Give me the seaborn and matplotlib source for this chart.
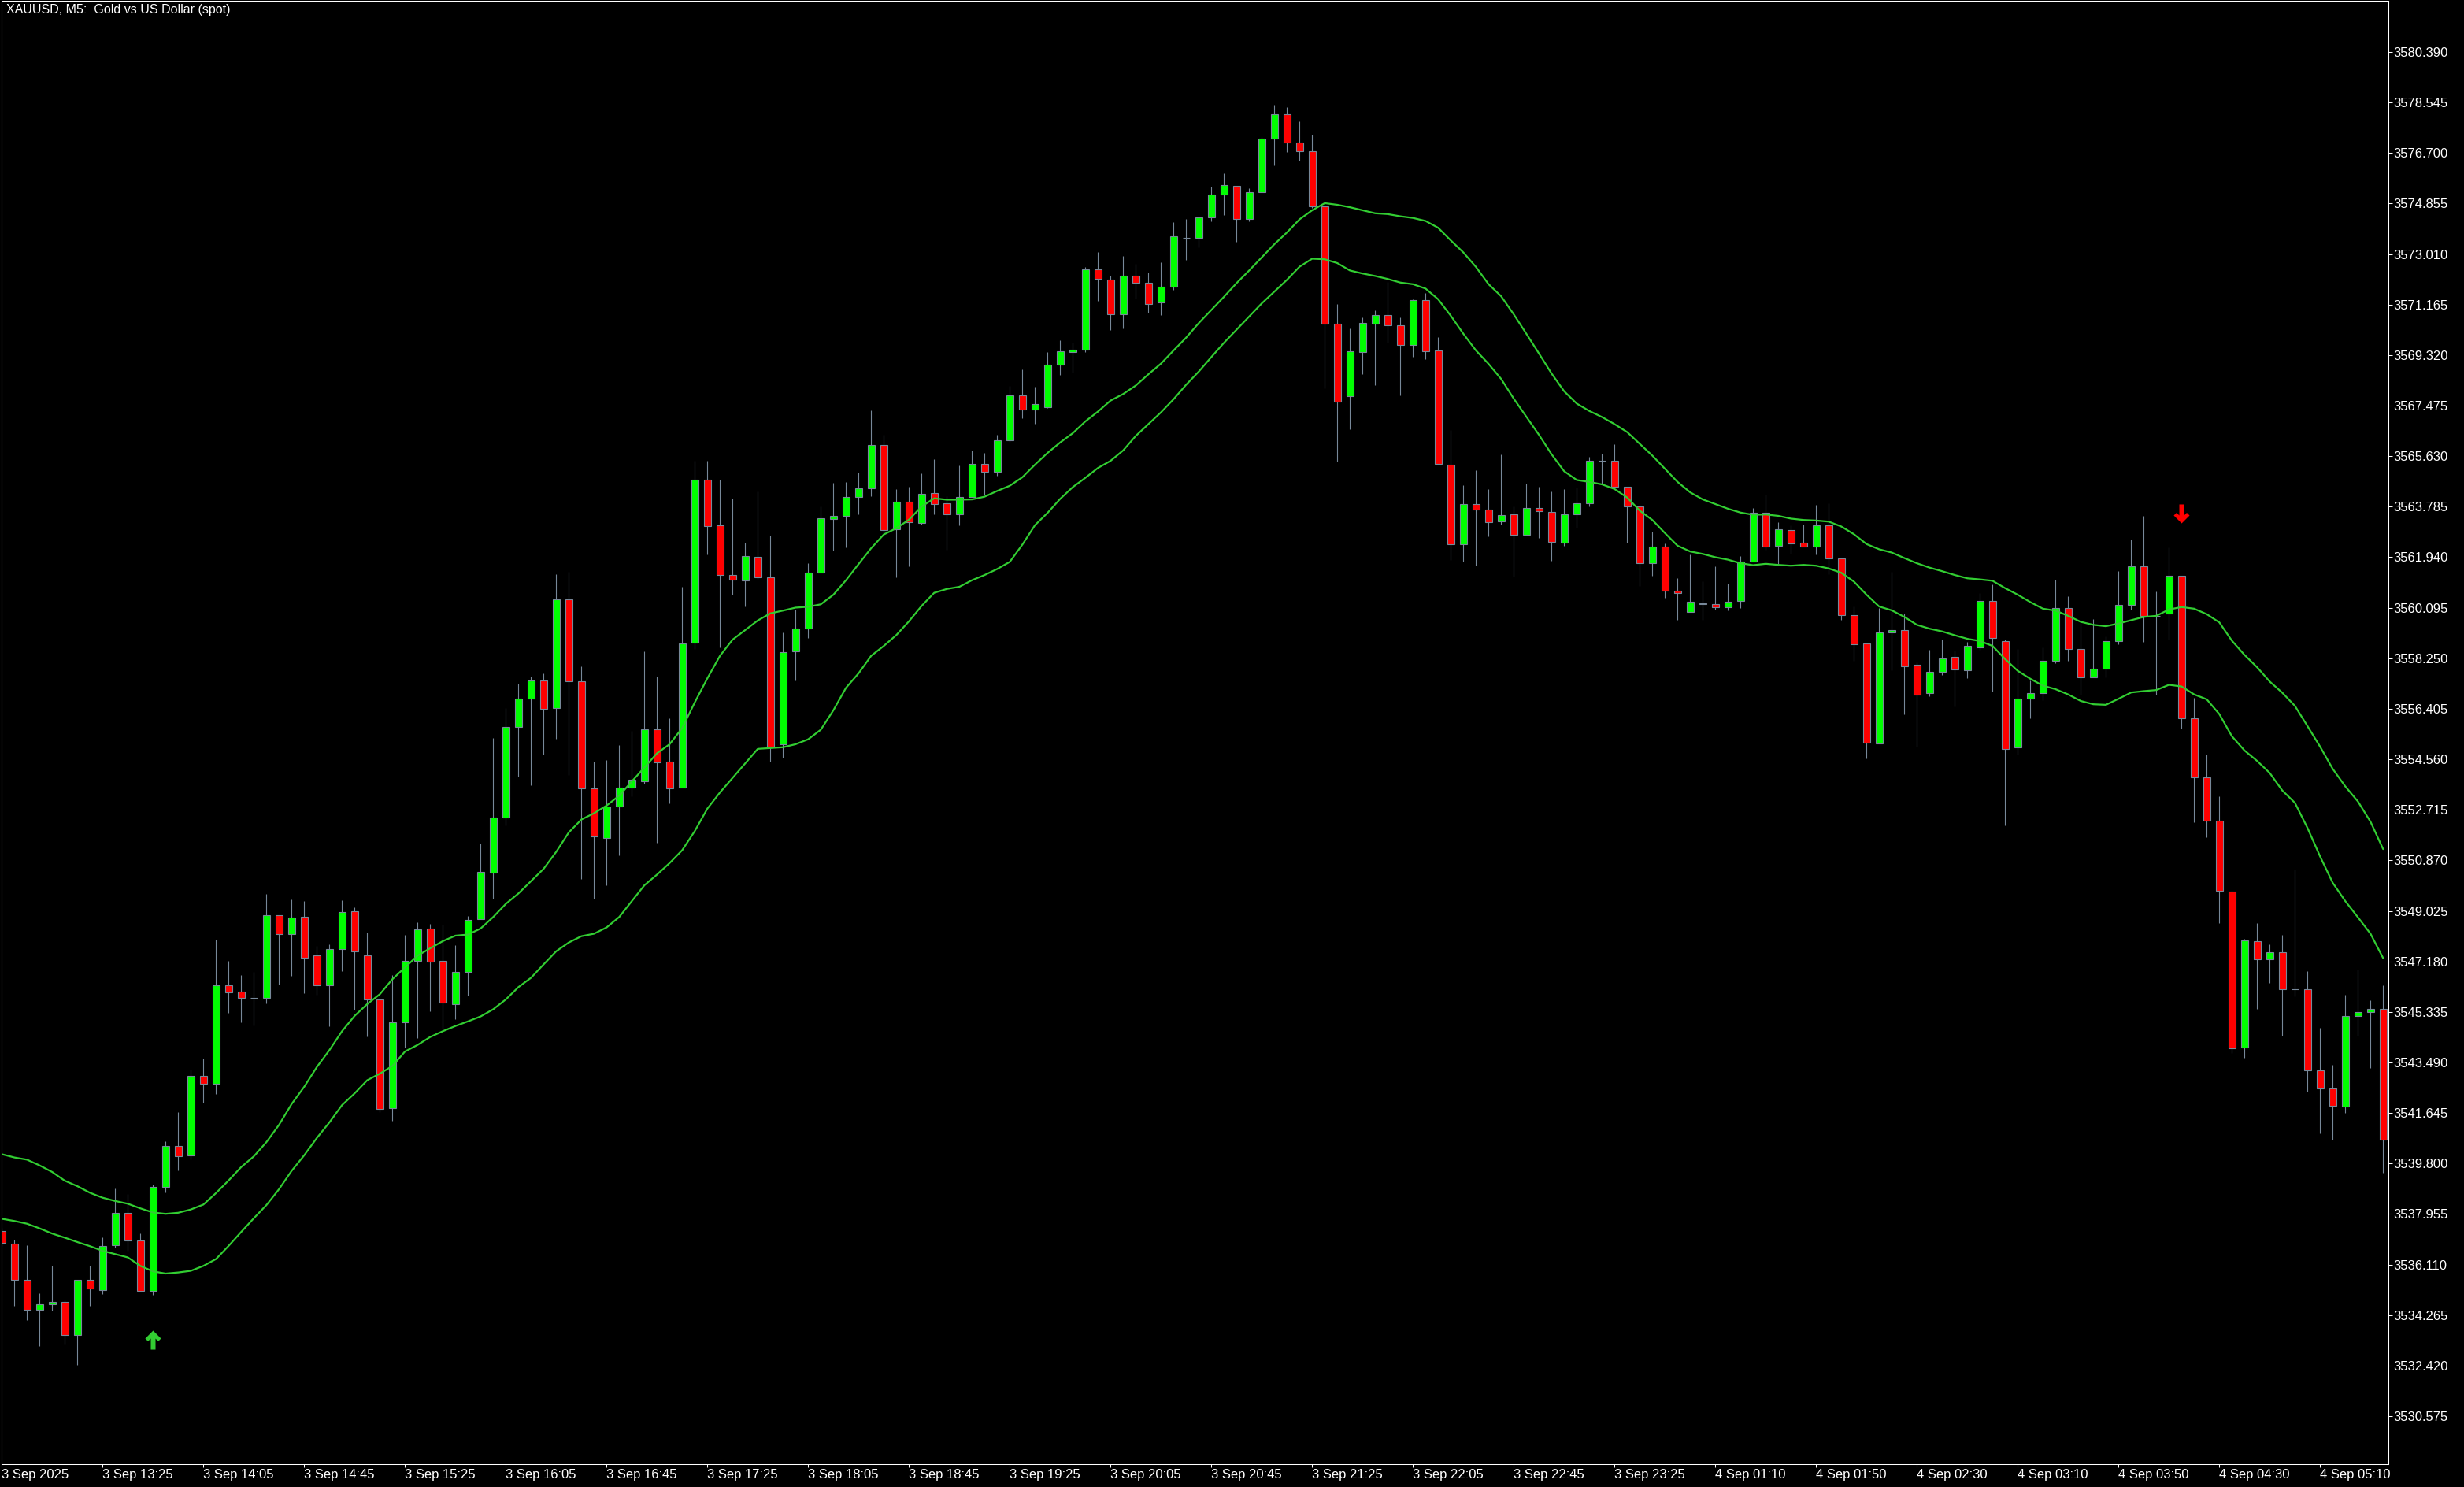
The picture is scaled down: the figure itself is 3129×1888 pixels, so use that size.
import numpy as np
import pandas as pd
import matplotlib
matplotlib.use("Agg")
import matplotlib.pyplot as plt
import seaborn as sns
from matplotlib.path import Path

# ---------------- data ----------------
opens = [3537.33, 3536.87, 3535.54, 3534.45, 3534.65, 3534.74, 3533.53, 3535.54, 3535.19, 3536.81,
         3537.99, 3536.98, 3535.14, 3538.93, 3540.43, 3540.09, 3543.01, 3542.72, 3546.31, 3546.07,
         3545.86, 3545.84, 3548.86, 3548.17, 3548.80, 3547.39, 3546.30, 3547.62, 3549.00, 3547.39,
         3545.78, 3541.81, 3544.95, 3547.19, 3548.37, 3547.19, 3545.63, 3546.81, 3548.71, 3550.42,
         3552.43, 3555.73, 3556.79, 3557.45, 3556.42, 3560.39, 3557.42, 3553.49, 3551.69, 3552.85,
         3553.52, 3553.75, 3555.65, 3554.47, 3553.53, 3558.81, 3564.76, 3563.10, 3561.29, 3561.09,
         3561.95, 3561.20, 3555.11, 3558.49, 3559.33, 3561.37, 3563.33, 3563.45, 3564.13, 3564.46,
         3566.03, 3562.95, 3563.96, 3563.18, 3564.27, 3563.90, 3563.50, 3564.13, 3565.34, 3565.05,
         3566.20, 3567.84, 3567.32, 3567.43, 3568.96, 3569.42, 3569.53, 3572.44, 3572.09, 3570.80,
         3572.21, 3571.95, 3571.23, 3571.81, 3573.60, 3573.59, 3574.34, 3575.17, 3575.49, 3574.28,
         3575.26, 3577.24, 3578.13, 3577.07, 3576.78, 3574.74, 3570.46, 3567.82, 3569.42, 3570.46,
         3570.78, 3570.40, 3569.68, 3571.32, 3569.48, 3565.31, 3562.41, 3563.88, 3563.67, 3563.24,
         3563.52, 3562.75, 3563.73, 3563.58, 3562.46, 3563.50, 3563.90, 3565.45, 3565.45, 3564.51,
         3563.78, 3561.71, 3562.32, 3560.73, 3559.93, 3560.27, 3560.22, 3560.10, 3560.33, 3561.77,
         3563.57, 3562.35, 3562.92, 3562.46, 3562.32, 3563.09, 3561.89, 3559.82, 3558.78, 3555.13,
         3559.18, 3559.27, 3558.00, 3556.97, 3557.74, 3558.29, 3557.80, 3558.66, 3560.33, 3558.87,
         3554.98, 3556.79, 3556.99, 3558.15, 3560.07, 3558.58, 3557.54, 3557.86, 3558.89, 3560.19,
         3561.60, 3559.80, 3559.87, 3561.25, 3556.05, 3553.90, 3552.32, 3549.74, 3544.03, 3547.91,
         3547.25, 3547.51, 3546.17, 3546.17, 3543.21, 3542.53, 3541.88, 3545.19, 3545.32, 3545.44]

highs = [3537.45, 3537.03, 3536.81, 3535.06, 3536.06, 3534.79, 3535.54, 3536.06, 3537.09, 3538.88,
         3538.68, 3537.25, 3539.03, 3540.62, 3541.69, 3543.24, 3543.63, 3547.97, 3547.20, 3546.68,
         3546.80, 3549.64, 3548.86, 3549.44, 3549.38, 3547.75, 3547.81, 3549.41, 3549.15, 3548.22,
         3545.78, 3546.68, 3548.14, 3548.61, 3548.54, 3548.51, 3547.78, 3548.83, 3551.49, 3555.35,
         3556.44, 3557.32, 3557.59, 3557.70, 3561.32, 3561.41, 3557.96, 3554.48, 3554.54, 3555.08,
         3555.60, 3558.50, 3557.59, 3556.05, 3560.87, 3565.47, 3565.47, 3564.78, 3564.08, 3562.47,
         3564.34, 3562.73, 3559.20, 3560.03, 3561.72, 3563.80, 3564.66, 3564.69, 3565.03, 3567.31,
         3566.41, 3564.43, 3564.51, 3565.00, 3565.52, 3564.17, 3565.29, 3565.84, 3565.74, 3566.41,
         3568.20, 3568.80, 3568.17, 3569.43, 3569.86, 3569.78, 3572.54, 3573.09, 3572.22, 3572.94,
         3572.65, 3572.33, 3572.71, 3574.17, 3574.29, 3574.38, 3575.47, 3575.96, 3575.49, 3575.40,
         3577.27, 3578.46, 3578.37, 3577.86, 3577.36, 3574.80, 3571.19, 3570.29, 3570.70, 3570.95,
         3572.00, 3570.70, 3571.36, 3571.60, 3569.99, 3566.57, 3564.57, 3565.12, 3564.43, 3565.69,
         3563.80, 3564.63, 3564.52, 3564.34, 3564.43, 3564.48, 3565.60, 3565.72, 3566.06, 3564.51,
         3563.85, 3562.86, 3562.44, 3561.19, 3562.04, 3561.06, 3561.61, 3560.97, 3561.98, 3563.73,
         3564.22, 3563.22, 3563.09, 3563.13, 3563.85, 3563.91, 3561.89, 3560.13, 3558.82, 3560.09,
         3561.41, 3559.88, 3558.10, 3558.56, 3558.93, 3558.53, 3558.85, 3560.62, 3560.95, 3558.93,
         3558.59, 3557.44, 3558.65, 3561.12, 3560.51, 3559.53, 3559.68, 3559.05, 3561.44, 3562.59,
         3563.45, 3560.69, 3562.30, 3561.25, 3556.81, 3554.73, 3553.21, 3549.77, 3548.01, 3548.58,
         3547.80, 3548.15, 3550.54, 3546.82, 3544.76, 3543.41, 3545.96, 3546.88, 3545.77, 3546.30]

lows = [3536.80, 3534.61, 3534.07, 3533.12, 3534.43, 3533.19, 3532.43, 3534.59, 3535.03, 3536.73,
        3536.61, 3535.14, 3535.00, 3538.73, 3539.54, 3539.94, 3542.01, 3542.34, 3545.30, 3544.96,
        3544.84, 3545.65, 3546.34, 3546.66, 3546.03, 3545.97, 3544.82, 3546.83, 3545.42, 3544.44,
        3541.69, 3541.35, 3544.03, 3544.39, 3545.37, 3544.72, 3545.08, 3545.94, 3548.71, 3549.47,
        3552.16, 3553.93, 3553.62, 3554.74, 3555.31, 3554.00, 3550.20, 3549.46, 3549.95, 3551.04,
        3553.22, 3553.66, 3551.50, 3552.94, 3553.53, 3558.58, 3562.03, 3558.66, 3560.56, 3560.13,
        3561.14, 3554.47, 3554.61, 3557.45, 3558.99, 3561.37, 3562.17, 3562.31, 3563.52, 3564.18,
        3562.78, 3561.20, 3561.62, 3563.14, 3563.52, 3562.22, 3563.09, 3564.13, 3564.22, 3564.91,
        3566.16, 3567.03, 3566.80, 3567.38, 3568.61, 3568.69, 3569.44, 3571.31, 3570.24, 3570.30,
        3571.39, 3570.88, 3570.79, 3571.69, 3572.79, 3573.26, 3574.21, 3574.44, 3573.46, 3574.21,
        3575.26, 3576.25, 3576.74, 3576.43, 3574.70, 3568.11, 3565.42, 3566.60, 3568.64, 3568.23,
        3569.77, 3567.86, 3569.26, 3569.18, 3565.34, 3561.84, 3561.79, 3561.65, 3562.70, 3563.13,
        3561.24, 3562.75, 3562.64, 3561.82, 3562.36, 3563.03, 3563.78, 3564.62, 3564.51, 3562.48,
        3560.90, 3561.27, 3560.47, 3559.64, 3559.93, 3559.66, 3560.03, 3560.00, 3560.08, 3561.77,
        3562.22, 3561.69, 3562.06, 3562.32, 3562.05, 3561.33, 3559.66, 3558.15, 3554.58, 3555.13,
        3557.82, 3556.21, 3555.03, 3556.87, 3557.65, 3556.50, 3557.53, 3558.57, 3557.04, 3552.16,
        3554.74, 3556.07, 3556.71, 3558.06, 3558.15, 3556.93, 3557.54, 3557.54, 3558.75, 3560.02,
        3558.86, 3556.93, 3558.94, 3555.68, 3552.25, 3551.70, 3548.59, 3543.82, 3543.67, 3545.43,
        3546.38, 3544.48, 3545.89, 3542.41, 3540.91, 3540.66, 3541.64, 3544.48, 3543.29, 3539.47]

closes = [3536.89, 3535.54, 3534.45, 3534.65, 3534.74, 3533.53, 3535.54, 3535.23, 3536.80, 3537.99,
          3536.98, 3535.14, 3538.93, 3540.43, 3540.07, 3543.00, 3542.72, 3546.30, 3546.06, 3545.84,
          3545.86, 3548.86, 3548.17, 3548.77, 3547.32, 3546.30, 3547.62, 3548.97, 3547.53, 3545.78,
          3541.78, 3544.95, 3547.19, 3548.34, 3547.17, 3545.66, 3546.81, 3548.68, 3550.44, 3552.43,
          3555.73, 3556.79, 3557.45, 3556.39, 3560.39, 3557.42, 3553.49, 3551.73, 3552.85, 3553.52,
          3553.81, 3555.65, 3554.45, 3553.49, 3558.78, 3564.76, 3563.07, 3561.29, 3561.11, 3561.97,
          3561.20, 3555.02, 3558.46, 3559.33, 3561.37, 3563.37, 3563.45, 3564.13, 3564.46, 3566.04,
          3562.92, 3563.96, 3563.21, 3564.25, 3563.87, 3563.50, 3564.13, 3565.34, 3565.05, 3566.20,
          3567.84, 3567.32, 3567.52, 3568.96, 3569.45, 3569.51, 3572.44, 3572.10, 3570.80, 3572.21,
          3571.95, 3571.20, 3571.81, 3573.65, 3573.60, 3574.34, 3575.17, 3575.52, 3574.28, 3575.26,
          3577.24, 3578.13, 3577.07, 3576.78, 3574.74, 3570.48, 3567.62, 3569.46, 3570.49, 3570.78,
          3570.40, 3569.68, 3571.32, 3569.46, 3565.34, 3562.41, 3563.88, 3563.68, 3563.21, 3563.49,
          3562.75, 3563.73, 3563.61, 3562.49, 3563.50, 3563.90, 3565.45, 3565.45, 3564.51, 3563.78,
          3561.71, 3562.32, 3560.73, 3560.62, 3560.30, 3560.22, 3560.10, 3560.32, 3561.77, 3563.57,
          3562.32, 3562.95, 3562.43, 3562.32, 3563.09, 3561.89, 3559.82, 3558.75, 3555.18, 3559.18,
          3559.27, 3557.97, 3556.93, 3557.74, 3558.23, 3557.83, 3558.69, 3560.33, 3558.98, 3554.95,
          3556.79, 3556.99, 3558.15, 3560.07, 3558.58, 3557.54, 3557.86, 3558.89, 3560.19, 3561.60,
          3559.79, 3559.80, 3561.25, 3556.05, 3553.89, 3552.32, 3549.77, 3544.00, 3547.94, 3547.25,
          3547.51, 3546.17, 3546.17, 3543.21, 3542.53, 3541.91, 3545.19, 3545.32, 3545.44, 3540.66]

ma_upper = [3540.14, 3540.02, 3539.94, 3539.73, 3539.49, 3539.17, 3538.97, 3538.73, 3538.55, 3538.43,
            3538.33, 3538.16, 3538.01, 3537.96, 3538.00, 3538.12, 3538.30, 3538.72, 3539.18, 3539.67,
            3540.06, 3540.58, 3541.21, 3541.97, 3542.60, 3543.32, 3543.94, 3544.63, 3545.19, 3545.62,
            3545.98, 3546.53, 3546.96, 3547.39, 3547.66, 3547.92, 3548.12, 3548.16, 3548.38, 3548.80,
            3549.28, 3549.66, 3550.11, 3550.56, 3551.18, 3551.89, 3552.36, 3552.59, 3552.87, 3553.23,
            3553.75, 3554.26, 3554.78, 3555.11, 3555.70, 3556.64, 3557.52, 3558.34, 3558.93, 3559.28,
            3559.63, 3559.89, 3559.99, 3560.10, 3560.13, 3560.22, 3560.57, 3561.10, 3561.69, 3562.27,
            3562.77, 3563.00, 3563.31, 3563.79, 3564.09, 3564.04, 3564.04, 3564.05, 3564.15, 3564.36,
            3564.55, 3564.86, 3565.32, 3565.75, 3566.13, 3566.47, 3566.90, 3567.26, 3567.66, 3567.90,
            3568.21, 3568.62, 3569.01, 3569.49, 3569.96, 3570.49, 3570.97, 3571.45, 3571.95, 3572.41,
            3572.89, 3573.37, 3573.80, 3574.28, 3574.61, 3574.87, 3574.81, 3574.72, 3574.61, 3574.50,
            3574.47, 3574.39, 3574.33, 3574.22, 3573.97, 3573.51, 3573.07, 3572.54, 3571.91, 3571.47,
            3570.81, 3570.10, 3569.38, 3568.65, 3568.00, 3567.55, 3567.28, 3567.06, 3566.80, 3566.51,
            3566.08, 3565.65, 3565.17, 3564.69, 3564.31, 3564.05, 3563.88, 3563.71, 3563.57, 3563.49,
            3563.50, 3563.45, 3563.35, 3563.30, 3563.28, 3563.24, 3563.06, 3562.78, 3562.42, 3562.23,
            3562.11, 3561.91, 3561.72, 3561.56, 3561.43, 3561.29, 3561.17, 3561.13, 3561.08, 3560.81,
            3560.57, 3560.30, 3560.06, 3559.99, 3559.80, 3559.58, 3559.47, 3559.42, 3559.52, 3559.64,
            3559.76, 3559.80, 3560.03, 3560.12, 3560.06, 3559.86, 3559.56, 3558.89, 3558.37, 3557.92,
            3557.40, 3556.99, 3556.51, 3555.77, 3555.02, 3554.21, 3553.57, 3553.02, 3552.28, 3551.28]

ma_lower = [3537.78, 3537.70, 3537.60, 3537.43, 3537.24, 3537.09, 3536.93, 3536.78, 3536.61, 3536.49,
            3536.37, 3536.06, 3535.86, 3535.78, 3535.82, 3535.88, 3536.06, 3536.31, 3536.79, 3537.30,
            3537.80, 3538.28, 3538.86, 3539.53, 3540.10, 3540.73, 3541.30, 3541.93, 3542.36, 3542.84,
            3543.08, 3543.36, 3543.89, 3544.13, 3544.42, 3544.63, 3544.82, 3544.99, 3545.17, 3545.43,
            3545.79, 3546.24, 3546.58, 3547.07, 3547.55, 3547.87, 3548.10, 3548.19, 3548.42, 3548.80,
            3549.38, 3549.96, 3550.35, 3550.77, 3551.24, 3551.94, 3552.76, 3553.35, 3553.88, 3554.41,
            3554.94, 3554.97, 3555.00, 3555.11, 3555.29, 3555.64, 3556.35, 3557.17, 3557.70, 3558.34,
            3558.70, 3559.10, 3559.60, 3560.16, 3560.64, 3560.78, 3560.86, 3561.10, 3561.29, 3561.51,
            3561.77, 3562.40, 3563.11, 3563.56, 3564.07, 3564.50, 3564.84, 3565.20, 3565.46, 3565.84,
            3566.37, 3566.80, 3567.23, 3567.71, 3568.24, 3568.72, 3569.25, 3569.77, 3570.25, 3570.73,
            3571.21, 3571.64, 3572.07, 3572.55, 3572.84, 3572.82, 3572.68, 3572.41, 3572.30, 3572.21,
            3572.10, 3571.97, 3571.91, 3571.75, 3571.36, 3570.76, 3570.10, 3569.49, 3569.00, 3568.45,
            3567.73, 3567.07, 3566.41, 3565.70, 3565.08, 3564.76, 3564.69, 3564.60, 3564.43, 3564.12,
            3563.64, 3563.30, 3562.82, 3562.36, 3562.15, 3562.06, 3561.94, 3561.85, 3561.72, 3561.65,
            3561.70, 3561.66, 3561.63, 3561.66, 3561.63, 3561.53, 3561.37, 3561.05, 3560.57, 3560.14,
            3560.00, 3559.76, 3559.47, 3559.33, 3559.23, 3559.09, 3558.96, 3558.88, 3558.70, 3558.22,
            3557.79, 3557.50, 3557.25, 3557.12, 3556.93, 3556.69, 3556.57, 3556.55, 3556.77, 3557.00,
            3557.05, 3557.09, 3557.28, 3557.22, 3556.93, 3556.75, 3556.21, 3555.40, 3554.88, 3554.50,
            3554.06, 3553.42, 3552.97, 3552.05, 3551.01, 3550.05, 3549.38, 3548.79, 3548.19, 3547.30]

price_ticks = [3530.575, 3532.420, 3534.265, 3536.110, 3537.955, 3539.800, 3541.645, 3543.490,
               3545.335, 3547.180, 3549.025, 3550.870, 3552.715, 3554.560, 3556.405, 3558.250,
               3560.095, 3561.940, 3563.785, 3565.630, 3567.475, 3569.320, 3571.165, 3573.010,
               3574.855, 3576.700, 3578.545, 3580.390]

time_labels = ["3 Sep 2025", "3 Sep 13:25", "3 Sep 14:05", "3 Sep 14:45", "3 Sep 15:25",
               "3 Sep 16:05", "3 Sep 16:45", "3 Sep 17:25", "3 Sep 18:05", "3 Sep 18:45",
               "3 Sep 19:25", "3 Sep 20:05", "3 Sep 20:45", "3 Sep 21:25", "3 Sep 22:05",
               "3 Sep 22:45", "3 Sep 23:25", "4 Sep 01:10", "4 Sep 01:50", "4 Sep 02:30",
               "4 Sep 03:10", "4 Sep 03:50", "4 Sep 04:30", "4 Sep 05:10"]
time_label_bars = [0, 8, 16, 24, 32, 40, 48, 56, 64, 72, 80, 88, 96, 104, 112, 120,
                   128, 136, 144, 152, 160, 168, 176, 184]

buy_signal_bar = [12]
buy_signal_price = [3533.36]
sell_signal_bar = [173]
sell_signal_price = [3563.54]

title_text = "XAUUSD, M5:  Gold vs US Dollar (spot)"

# ---------------- styling ----------------
BG = "#000000"
FG = "#FFFFFF"
BULL = "#00FF00"
BEAR = "#FF0000"
OUTLINE = "#778899"
MA_COLOR = "#32CD32"

sns.set_theme(style="dark", rc={"axes.facecolor": BG, "figure.facecolor": BG,
                                "axes.edgecolor": FG, "grid.color": BG})
plt.rcParams["font.family"] = ["Liberation Sans", "DejaVu Sans"]

W, H = 3129, 1888
fig = plt.figure(figsize=(W / 100, H / 100), dpi=100)
fig.patch.set_facecolor(BG)
ax_left, ax_right, ax_top, ax_bottom = 2, 3033, 1, 1859
ax = fig.add_axes([ax_left / W, (H - ax_bottom) / H,
                   (ax_right - ax_left) / W, (ax_bottom - ax_top) / H])
ax.set_facecolor(BG)

df = pd.DataFrame({"bar": np.arange(len(opens)), "open": opens, "high": highs,
                   "low": lows, "close": closes, "upper": ma_upper, "lower": ma_lower})

# wicks
ax.vlines(df["bar"], df["low"], df["high"], color=OUTLINE, linewidth=0.8, zorder=2)
# bodies
body_bottom = np.minimum(df["open"], df["close"])
body_height = np.abs(df["close"] - df["open"])
body_colors = [BULL if c >= o else BEAR for o, c in zip(df["open"], df["close"])]
ax.bar(df["bar"], body_height, bottom=body_bottom, width=0.6, color=body_colors,
       edgecolor=OUTLINE, linewidth=0.8, zorder=3)

# moving average band lines
sns.lineplot(data=df, x="bar", y="upper", color=MA_COLOR, linewidth=1.6, ax=ax, zorder=4)
sns.lineplot(data=df, x="bar", y="lower", color=MA_COLOR, linewidth=1.6, ax=ax, zorder=4)

# signal arrows (thick chevron arrows)
up_verts = [(0, 12), (10, 2), (6.5, -1.5), (3, 2), (3, -12), (-3, -12), (-3, 2),
            (-6.5, -1.5), (-10, 2), (0, 12)]
up_codes = [Path.MOVETO] + [Path.LINETO] * 8 + [Path.CLOSEPOLY]
up_path = Path(up_verts, up_codes)
down_path = Path([(x, -y) for x, y in up_verts], up_codes)
ax.scatter(buy_signal_bar, buy_signal_price, marker=up_path, s=300, color=MA_COLOR,
           linewidths=0, zorder=5)
ax.scatter(sell_signal_bar, sell_signal_price, marker=down_path, s=300, color=BEAR,
           linewidths=0, zorder=5)

# scales
price_per_px = 0.028762
ax.set_ylim(3580.39 - (ax_bottom - 66) * price_per_px, 3580.39 + (66 - ax_top) * price_per_px)
ax.set_xlim((ax_left - 2.3) / 16.0, (ax_right - 2.3) / 16.0)

ax.yaxis.tick_right()
ax.set_yticks(price_ticks)
ax.set_yticklabels([f"{p:.3f}" for p in price_ticks])
ax.set_xticks(time_label_bars)
ax.set_xticklabels(time_labels)
for lab in ax.get_xticklabels():
    lab.set_horizontalalignment("left")

ax.tick_params(axis="y", which="both", right=True, left=False, direction="out",
               length=3.6, width=0.75, color=FG, labelcolor=FG, labelsize=12, pad=0.8)
ax.tick_params(axis="x", which="both", bottom=True, direction="out",
               length=2.9, width=0.75, color=FG, labelcolor=FG, labelsize=12, pad=1.5)
ax.set_xlabel("")
ax.set_ylabel("")
ax.grid(False)
for side in ["left", "right", "top", "bottom"]:
    ax.spines[side].set_visible(True)
    ax.spines[side].set_color(FG)
    ax.spines[side].set_linewidth(0.75)

fig.text(8 / W, 1 - 5 / H, title_text, color=FG, fontsize=11.5, ha="left", va="top")

fig.savefig("out.png", dpi=100, facecolor=BG)
